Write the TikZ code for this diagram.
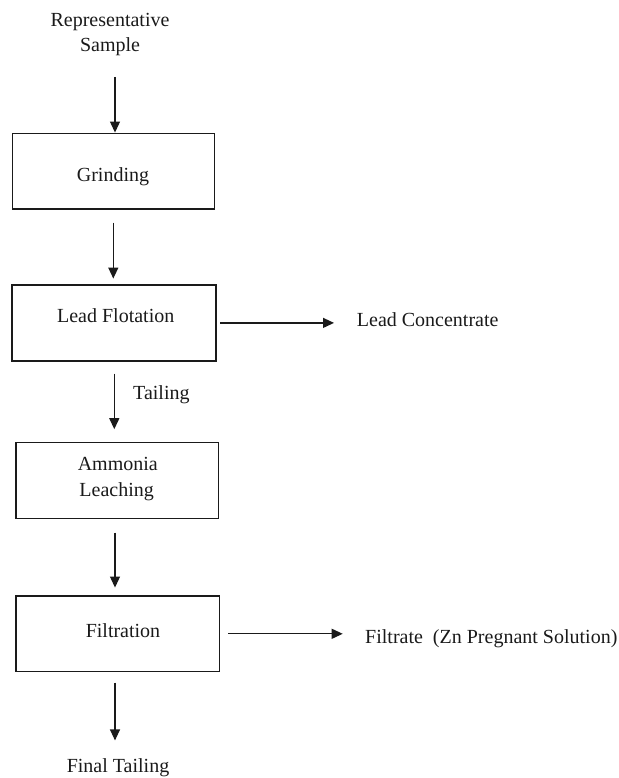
\documentclass[tikz,border=0pt]{standalone}
\usepackage{fontspec}
\setmainfont{Liberation Serif}
\usetikzlibrary{arrows.meta}
\definecolor{ink}{HTML}{1A1A1A}
\begin{document}
\begin{tikzpicture}[x=1pt,y=-1pt,
  box/.style={draw=ink, line width=1.6pt, minimum width=#1, minimum height=75.7pt, inner sep=0pt},
  txt/.style={inner sep=0pt, anchor=base, text=ink, font=\fontsize{20}{25}\selectfont},
  txtw/.style={txt, anchor=base west},
  arr/.style={draw=ink, line width=1.2pt, -{Triangle[length=11pt,width=10pt]}}]
\useasboundingbox (0,0) rectangle (618,778);
% text
\node[txt] (rep) at (110,27) {Representative};
\node[txt] (sample) at (110,52) {Sample};
% boxes
\node[box=202pt] (grind) at (113.3,171.2) {};
\node[txt] (grindt) at (113,181.5) {Grinding};
\node[box=203.7pt] (flot) at (113.9,322.9) {};
\node[txt] (flott) at (115.7,322) {Lead Flotation};
\node[box=202.6pt, minimum height=76pt] (amm) at (117,480.3) {};
\node[txt] (amm1) at (117.8,470.7) {Ammonia};
\node[txt] (amm2) at (116.7,496) {Leaching};
\node[box=203.3pt, minimum height=75.5pt] (filt) at (117.7,633.8) {};
\node[txt] (filtt) at (123,637.3) {Filtration};
% outputs
\node[txtw] (conc) at (356.7,326.5) {Lead Concentrate};
\node[txtw] (tail) at (133,399.3) {Tailing};
\node[txtw] (filtrate) at (365,643.5) {Filtrate\ \ (Zn Pregnant Solution)};
\node[txt] (final) at (118,772.5) {Final Tailing};
% connectors
\coordinate (in) at (115,77);
\draw[arr] (in) -- (in |- grind.north);
\draw[arr, shorten <=12.7pt, shorten >=5.7pt] (grind.south) -- (grind.south |- flot.north);
\draw[arr, shorten <=12pt, shorten >=12.3pt] ([xshift=0.4pt]flot.south) -- ([xshift=0.4pt]flot.south |- amm.north);
\draw[arr, shorten <=13.4pt, shorten >=7.7pt] ([xshift=-2pt]amm.south) -- ([xshift=-2pt]amm.south |- filt.north);
\draw[arr, shorten <=10.2pt, shorten >=18pt] ([xshift=-2.7pt]filt.south) -- ([xshift=-2.7pt]filt.south |- final.north);
\draw[arr, shorten <=3.6pt, shorten >=22.7pt] (flot.east) -- (flot.east -| conc.west);
\draw[arr, shorten <=8pt, shorten >=22.3pt] (filt.east) -- (filt.east -| filtrate.west);
\end{tikzpicture}
\end{document}
